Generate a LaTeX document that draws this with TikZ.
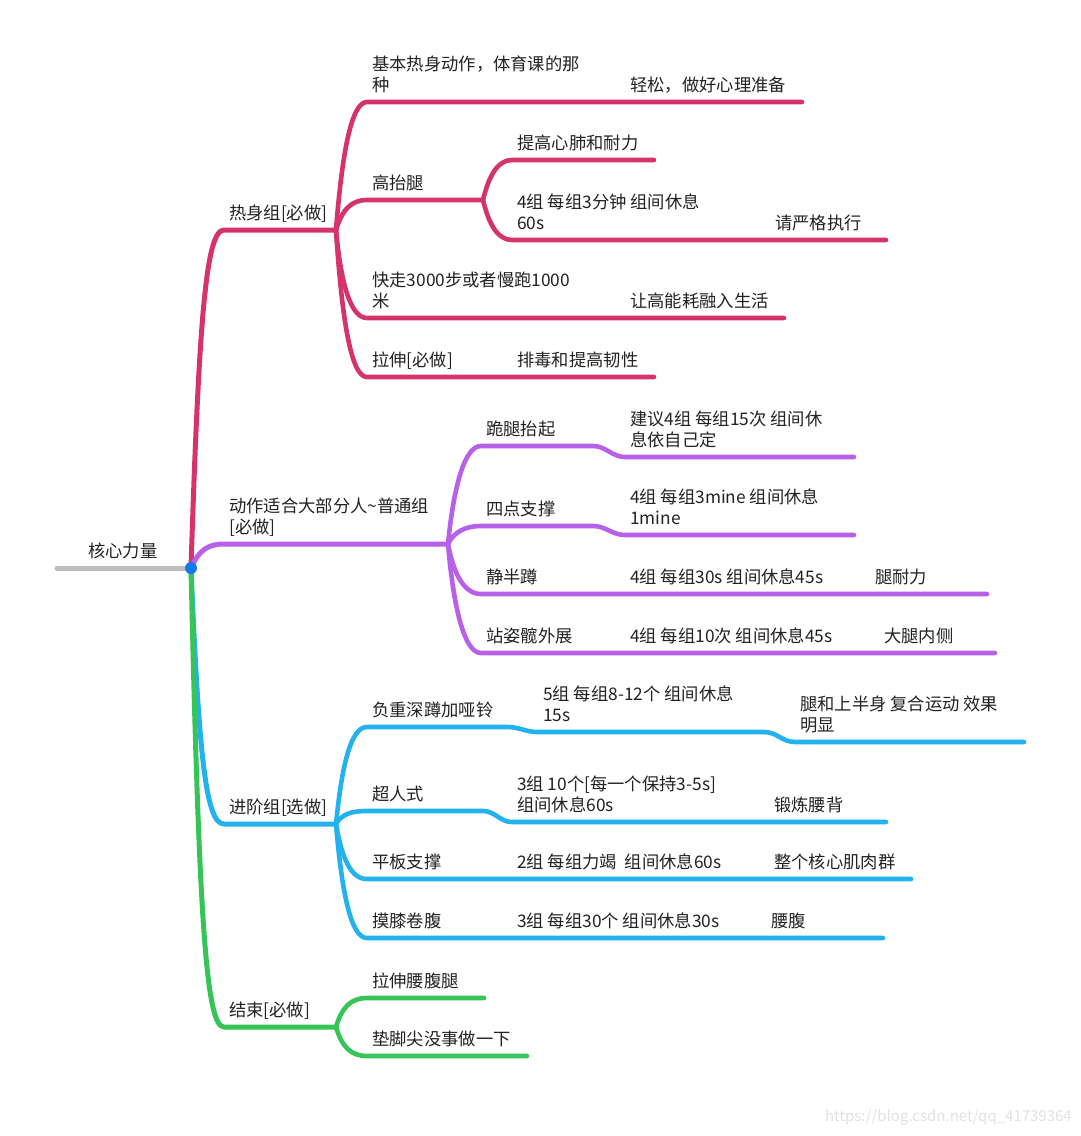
\documentclass[tikz,border=0pt]{standalone}
\usepackage{fontspec}
\setmainfont{Noto Sans CJK SC}
\usepackage{tikz}
\usetikzlibrary{positioning}
\definecolor{mindred}{HTML}{D6336C}
\definecolor{mindpurple}{HTML}{B760E8}
\definecolor{mindblue}{HTML}{23B2EE}
\definecolor{mindgreen}{HTML}{36C456}
\definecolor{mindgray}{HTML}{BDBDBD}
\definecolor{minddot}{HTML}{1677EE}
\definecolor{mindink}{HTML}{222222}
\definecolor{mindmark}{HTML}{E2E2E2}
\tikzset{%
  mindtext/.style={%
    inner sep=0pt,
    align=left,
    text=mindink,
    text depth=2pt,
    font=\fontsize{17.3}{20.5}\selectfont
  },
  mindline/.style={line width=4.6pt,line cap=round,line join=round},
  mindtrunk/.style={mindline,line width=5pt},
  minddotnode/.style={circle,fill=minddot,inner sep=0pt,minimum size=12pt}
}
\begin{document}
\begin{tikzpicture}[x=1pt,y=-1pt,node distance=8.5pt and 5pt]
    \fill[white] (0,0) rectangle (1080,1136);
    \useasboundingbox (0,0) rectangle (1080,1136);

    % anchor points of the lines
    \coordinate (root-s) at (57,568);
    \coordinate (core) at (191,568);
    \coordinate (warm-s) at (224,230);   \coordinate (warm-e) at (336,230);
    \coordinate (basic-s) at (224,544);  \coordinate (basic-e) at (448,544);
    \coordinate (adv-s) at (224,824);    \coordinate (adv-e) at (336,824);
    \coordinate (cool-s) at (224,1027);  \coordinate (cool-e) at (336,1027);

    \coordinate (w1-s) at (367,102);  \coordinate (w1a-s) at (625,102);  \coordinate (w1a-e) at (802,102);
    \coordinate (w2-s) at (367,200);  \coordinate (w2-e) at (483,200);
    \coordinate (w2a-s) at (512,160); \coordinate (w2a-e) at (654,160);
    \coordinate (w2b-s) at (512,240); \coordinate (w2b1-s) at (770,240); \coordinate (w2b1-e) at (886,240);
    \coordinate (w3-s) at (367,318);  \coordinate (w3a-s) at (625,318);  \coordinate (w3a-e) at (784,318);
    \coordinate (w4-s) at (367,377);  \coordinate (w4a-s) at (512,377);  \coordinate (w4a-e) at (654,377);

    \coordinate (p1-s) at (481,446);  \coordinate (p1-e) at (593,446);
    \coordinate (p1a-s) at (625,457); \coordinate (p1a-e) at (854,457);
    \coordinate (p2-s) at (481,526);  \coordinate (p2-e) at (593,526);
    \coordinate (p2a-s) at (625,535); \coordinate (p2a-e) at (854,535);
    \coordinate (p3-s) at (481,594);  \coordinate (p3a-s) at (625,594);
    \coordinate (p3b-s) at (870,594); \coordinate (p3b-e) at (987,594);
    \coordinate (p4-s) at (481,653);  \coordinate (p4a-s) at (625,653);
    \coordinate (p4b-s) at (879,653); \coordinate (p4b-e) at (995,653);

    \coordinate (a1-s) at (367,727);  \coordinate (a1-e) at (507,727);
    \coordinate (a1a-s) at (538,732); \coordinate (a1a-e) at (764,732);
    \coordinate (a1b-s) at (795,742); \coordinate (a1b-e) at (1024,742);
    \coordinate (a2-s) at (367,811);  \coordinate (a2-e) at (483,811);
    \coordinate (a2a-s) at (512,822); \coordinate (a2b-s) at (769,822); \coordinate (a2b-e) at (886,822);
    \coordinate (a3-s) at (367,879);  \coordinate (a3a-s) at (512,879);
    \coordinate (a3b-s) at (769,879); \coordinate (a3b-e) at (911,879);
    \coordinate (a4-s) at (367,938);  \coordinate (a4a-s) at (512,938);
    \coordinate (a4b-s) at (766,938); \coordinate (a4b-e) at (883,938);

    \coordinate (g1-s) at (367,998);  \coordinate (g1-e) at (484,998);
    \coordinate (g2-s) at (367,1056); \coordinate (g2-e) at (527,1056);

    % main branches
    \draw[mindtrunk,mindgray] (root-s) -- (core);
    \draw[mindtrunk,mindred] (core) .. controls +(8,-250) and +(-18,0) .. (warm-s) -- (warm-e);
    \draw[mindtrunk,mindpurple] (core) .. controls +(8,-18) and +(-16,0) .. (basic-s) -- (basic-e);
    \draw[mindtrunk,mindblue] (core) .. controls +(8,190) and +(-18,0) .. (adv-s) -- (adv-e);
    \draw[mindtrunk,mindgreen] (core) .. controls +(8,350) and +(-18,0) .. (cool-s) -- (cool-e);

    % warm-up
    \draw[mindline,mindred] (warm-e) .. controls +(6,-75) and +(-16,0) .. (w1-s) -- (w1a-s) -- (w1a-e);
    \draw[mindline,mindred] (warm-e) .. controls +(6,-20) and +(-16,0) .. (w2-s) -- (w2-e);
    \draw[mindline,mindred] (w2-e) .. controls +(6,-25) and +(-14,0) .. (w2a-s) -- (w2a-e);
    \draw[mindline,mindred] (w2-e) .. controls +(6,25) and +(-14,0) .. (w2b-s) -- (w2b1-s) -- (w2b1-e);
    \draw[mindline,mindred] (warm-e) .. controls +(5,55) and +(-16,0) .. (w3-s) -- (w3a-s) -- (w3a-e);
    \draw[mindline,mindred] (warm-e) .. controls +(6,90) and +(-16,0) .. (w4-s) -- (w4a-s) -- (w4a-e);

    % basic group
    \draw[mindline,mindpurple] (basic-e) .. controls +(6,-60) and +(-16,0) .. (p1-s) -- (p1-e)
      .. controls +(13,0) and +(-13,0) .. (p1a-s) -- (p1a-e);
    \draw[mindline,mindpurple] (basic-e) .. controls +(6,-12) and +(-16,0) .. (p2-s) -- (p2-e)
      .. controls +(13,0) and +(-13,0) .. (p2a-s) -- (p2a-e);
    \draw[mindline,mindpurple] (basic-e) .. controls +(6,32) and +(-16,0) .. (p3-s) -- (p3a-s) -- (p3b-s) -- (p3b-e);
    \draw[mindline,mindpurple] (basic-e) .. controls +(6,68) and +(-16,0) .. (p4-s) -- (p4a-s) -- (p4b-s) -- (p4b-e);

    % advanced group
    \draw[mindline,mindblue] (adv-e) .. controls +(6,-60) and +(-16,0) .. (a1-s) -- (a1-e)
      .. controls +(13,0) and +(-13,0) .. (a1a-s) -- (a1a-e)
      .. controls +(13,0) and +(-13,0) .. (a1b-s) -- (a1b-e);
    \draw[mindline,mindblue] (adv-e) .. controls +(6,-10) and +(-16,0) .. (a2-s) -- (a2-e)
      .. controls +(12,0) and +(-12,0) .. (a2a-s) -- (a2b-s) -- (a2b-e);
    \draw[mindline,mindblue] (adv-e) .. controls +(6,35) and +(-16,0) .. (a3-s) -- (a3a-s) -- (a3b-s) -- (a3b-e);
    \draw[mindline,mindblue] (adv-e) .. controls +(6,70) and +(-16,0) .. (a4-s) -- (a4a-s) -- (a4b-s) -- (a4b-e);

    % cool-down
    \draw[mindline,mindgreen] (cool-e) .. controls +(6,-20) and +(-16,0) .. (g1-s) -- (g1-e);
    \draw[mindline,mindgreen] (cool-e) .. controls +(6,20) and +(-16,0) .. (g2-s) -- (g2-e);

    \node[minddotnode] (core-dot) at (core) {};

    % labels
    \node[mindtext,above right=8.5pt and 31pt of root-s] (root) {核心力量};
    \node[mindtext,above right=of warm-s] (warm) {热身组[必做]};
    \node[mindtext,above right=of basic-s] (basic) {动作适合大部分人\textasciitilde{}普通组\\\relax[必做]};
    \node[mindtext,above right=of adv-s] (adv) {进阶组[选做]};
    \node[mindtext,above right=of cool-s] (cool) {结束[必做]};

    \node[mindtext,above right=of w1-s] (w1) {基本热身动作，体育课的那\\种};
    \node[mindtext,above right=of w1a-s] (w1a) {轻松，做好心理准备};
    \node[mindtext,above right=of w2-s] (w2) {高抬腿};
    \node[mindtext,above right=of w2a-s] (w2a) {提高心肺和耐力};
    \node[mindtext,above right=of w2b-s] (w2b) {4组 每组3分钟 组间休息\\60s};
    \node[mindtext,above right=of w2b1-s] (w2b1) {请严格执行};
    \node[mindtext,above right=of w3-s] (w3) {快走3000步或者慢跑1000\\米};
    \node[mindtext,above right=of w3a-s] (w3a) {让高能耗融入生活};
    \node[mindtext,above right=of w4-s] (w4) {拉伸[必做]};
    \node[mindtext,above right=of w4a-s] (w4a) {排毒和提高韧性};

    \node[mindtext,above right=of p1-s] (p1) {跪腿抬起};
    \node[mindtext,above right=of p1a-s] (p1a) {建议4组 每组15次 组间休\\息依自己定};
    \node[mindtext,above right=of p2-s] (p2) {四点支撑};
    \node[mindtext,above right=of p2a-s] (p2a) {4组 每组3mine 组间休息\\1mine};
    \node[mindtext,above right=of p3-s] (p3) {静半蹲};
    \node[mindtext,above right=of p3a-s] (p3a) {4组 每组30s 组间休息45s};
    \node[mindtext,above right=of p3b-s] (p3b) {腿耐力};
    \node[mindtext,above right=of p4-s] (p4) {站姿髋外展};
    \node[mindtext,above right=of p4a-s] (p4a) {4组 每组10次 组间休息45s};
    \node[mindtext,above right=of p4b-s] (p4b) {大腿内侧};

    \node[mindtext,above right=of a1-s] (a1) {负重深蹲加哑铃};
    \node[mindtext,above right=of a1a-s] (a1a) {5组 每组8-12个 组间休息\\15s};
    \node[mindtext,above right=of a1b-s] (a1b) {腿和上半身 复合运动 效果\\明显};
    \node[mindtext,above right=of a2-s] (a2) {超人式};
    \node[mindtext,above right=of a2a-s] (a2a) {3组 10个[每一个保持3-5s]\\组间休息60s};
    \node[mindtext,above right=of a2b-s] (a2b) {锻炼腰背};
    \node[mindtext,above right=of a3-s] (a3) {平板支撑};
    \node[mindtext,above right=of a3a-s] (a3a) {2组 每组力竭\ \ 组间休息60s};
    \node[mindtext,above right=of a3b-s] (a3b) {整个核心肌肉群};
    \node[mindtext,above right=of a4-s] (a4) {摸膝卷腹};
    \node[mindtext,above right=of a4a-s] (a4a) {3组 每组30个 组间休息30s};
    \node[mindtext,above right=of a4b-s] (a4b) {腰腹};

    \node[mindtext,above right=of g1-s] (g1) {拉伸腰腹腿};
    \node[mindtext,above right=of g2-s] (g2) {垫脚尖没事做一下};

    \node[inner sep=0pt,anchor=east,text=mindmark,font=\fontsize{15}{18}\selectfont] (mark) at (1072,1117) {https://blog.csdn.net/qq\_41739364};
  \end{tikzpicture}
\end{document}
